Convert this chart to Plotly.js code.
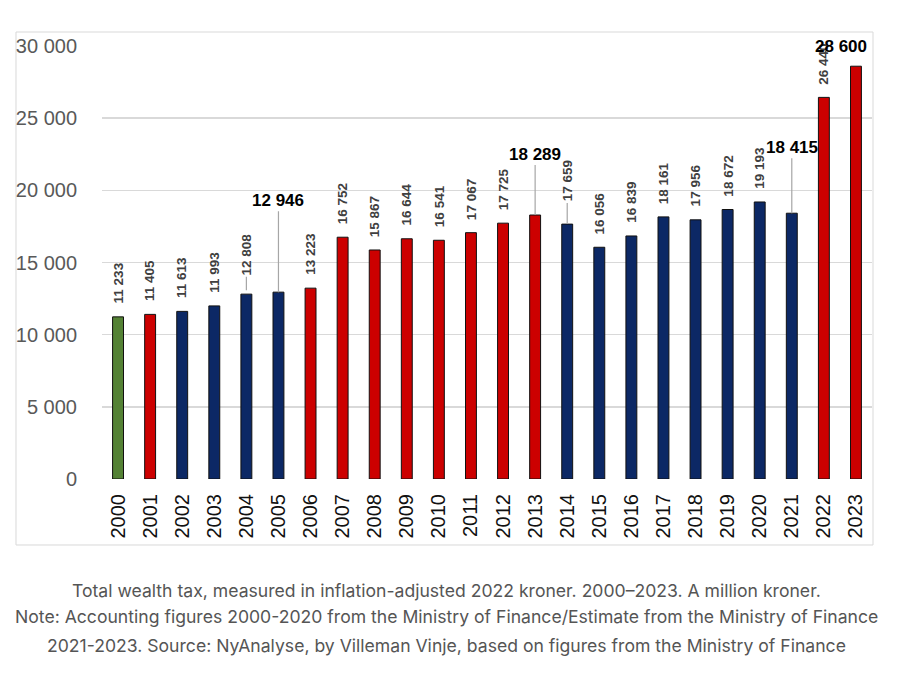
<!DOCTYPE html>
<html>
<head>
<meta charset="utf-8">
<script src="https://cdn.plot.ly/plotly-3.0.1.min.js"></script>
<style>
  html, body { margin: 0; padding: 0; background: #ffffff; }
  #chart { width: 900px; height: 675px; }
</style>
</head>
<body>
<div id="chart"></div>
<script>
// ---- data ----
const years = ['2000','2001','2002','2003','2004','2005','2006','2007','2008','2009','2010','2011',
               '2012','2013','2014','2015','2016','2017','2018','2019','2020','2021','2022','2023'];
const values = [11233, 11405, 11613, 11993, 12808, 12946, 13223, 16752, 15867, 16644, 16541, 17067,
                17725, 18289, 17659, 16056, 16839, 18161, 17956, 18672, 19193, 18415, 26440, 28600];
// government group of each year (colour key)
const groups = ['green','red','blue','blue','blue','blue','red','red','red','red','red','red',
                'red','red','blue','blue','blue','blue','blue','blue','blue','blue','red','red'];
// years whose value label is shown large and horizontal
const bigLabelYears = ['2005','2013','2021','2023'];
// years whose small rotated label has a short leader line
const leaderYears = ['2004','2014'];
const yTickVals = [0, 5000, 10000, 15000, 20000, 25000, 30000];
const yTickText = ['0', '5 000', '10 000', '15 000', '20 000', '25 000', '30 000'];
const captionLines = [
  'Total wealth tax, measured in inflation-adjusted 2022 kroner. 2000–2023. A million kroner.',
  'Note: Accounting figures 2000-2020 from the Ministry of Finance/Estimate from the Ministry of Finance',
  '2021-2023. Source: NyAnalyse, by Villeman Vinje, based on figures from the Ministry of Finance'
];

// ---- styling ----
const palette = { green: '#548235', red: '#CC0000', blue: '#0C2865' };
const fmt = v => String(v).replace(/\B(?=(\d{3})+(?!\d))/g, ' ');
const smallFont = { family: 'Liberation Sans, Arial, sans-serif', size: 13.5, color: '#404040' };
const bigFont = { family: 'Liberation Sans, Arial, sans-serif', size: 17, color: '#000000' };

const trace = {
  type: 'bar',
  x: years,
  y: values,
  width: 0.34,
  marker: {
    color: groups.map(g => palette[g]),
    line: { color: '#111111', width: 1 }
  },
  hoverinfo: 'x+y'
};

const annotations = [];
const bigOffsets = { '2005': -92, '2013': -61, '2021': -66 };
const leaderOffsets = { '2004': [-40, 4], '2014': [-43, 0] };
years.forEach((yr, i) => {
  const v = values[i];
  if (bigLabelYears.includes(yr)) {
    if (bigOffsets[yr] !== undefined) {
      annotations.push({
        x: i, y: v, xref: 'x', yref: 'y',
        text: '<b>' + fmt(v) + '</b>',
        showarrow: true, arrowhead: 0, arrowwidth: 1.2, arrowcolor: '#a6a6a6',
        ax: 0, ay: bigOffsets[yr], standoff: 0,
        font: bigFont
      });
    } else {
      annotations.push({
        x: i, y: v, xref: 'x', yref: 'y',
        text: '<b>' + fmt(v) + '</b>',
        showarrow: false, xshift: -15, yshift: 20,
        font: bigFont
      });
    }
  } else if (leaderYears.includes(yr)) {
    annotations.push({
      x: i, y: v, xref: 'x', yref: 'y',
      text: '<b>' + fmt(v) + '</b>', textangle: -90,
      showarrow: true, arrowhead: 0, arrowwidth: 1.2, arrowcolor: '#a6a6a6',
      ax: 0, ay: leaderOffsets[yr][0], standoff: leaderOffsets[yr][1],
      font: smallFont
    });
  } else {
    annotations.push({
      x: i, y: v, xref: 'x', yref: 'y',
      text: '<b>' + fmt(v) + '</b>', textangle: -90,
      showarrow: false, yanchor: 'bottom', yshift: 11,
      font: smallFont
    });
  }
});

// caption under the chart image
const captionY = [-0.2564, -0.3187, -0.3834];
captionLines.forEach((t, i) => {
  annotations.push({
    xref: 'paper', yref: 'paper', x: 0.4468, y: captionY[i],
    xanchor: 'center', yanchor: 'middle', showarrow: false,
    text: t,
    font: { family: 'Inter, sans-serif', size: 17.6, color: '#555555' }
  });
});

const layout = {
  width: 900, height: 675,
  margin: { l: 102, r: 28, t: 46, b: 196 },
  paper_bgcolor: '#ffffff', plot_bgcolor: '#ffffff',
  showlegend: false,
  bargap: 0.66,
  xaxis: {
    type: 'category',
    range: [-0.5, 23.5],
    tickangle: -90,
    ticks: 'outside', ticklen: 6, tickcolor: 'rgba(0,0,0,0)',
    showline: false, showgrid: false, zeroline: false,
    tickfont: { family: 'Liberation Sans, Arial, sans-serif', size: 20, color: '#111111' },
    fixedrange: true
  },
  yaxis: {
    range: [0, 30000],
    tickvals: yTickVals, ticktext: yTickText,
    ticks: 'outside', ticklen: 20, tickcolor: 'rgba(0,0,0,0)',
    showgrid: true, gridcolor: '#d9d9d9', gridwidth: 1.5,
    zeroline: false, showline: false,
    tickfont: { family: 'Liberation Sans, Arial, sans-serif', size: 20, color: '#595959' },
    fixedrange: true
  },
  shapes: [{
    type: 'rect', xref: 'paper', yref: 'paper',
    x0: -0.1117, x1: 1.0013, y0: -0.1524, y1: 1.0323,
    line: { color: '#d9d9d9', width: 1 }, fillcolor: 'rgba(0,0,0,0)', layer: 'below'
  }],
  annotations: annotations
};

Plotly.newPlot('chart', [trace], layout, { displayModeBar: false, staticPlot: true });
</script>
</body>
</html>
